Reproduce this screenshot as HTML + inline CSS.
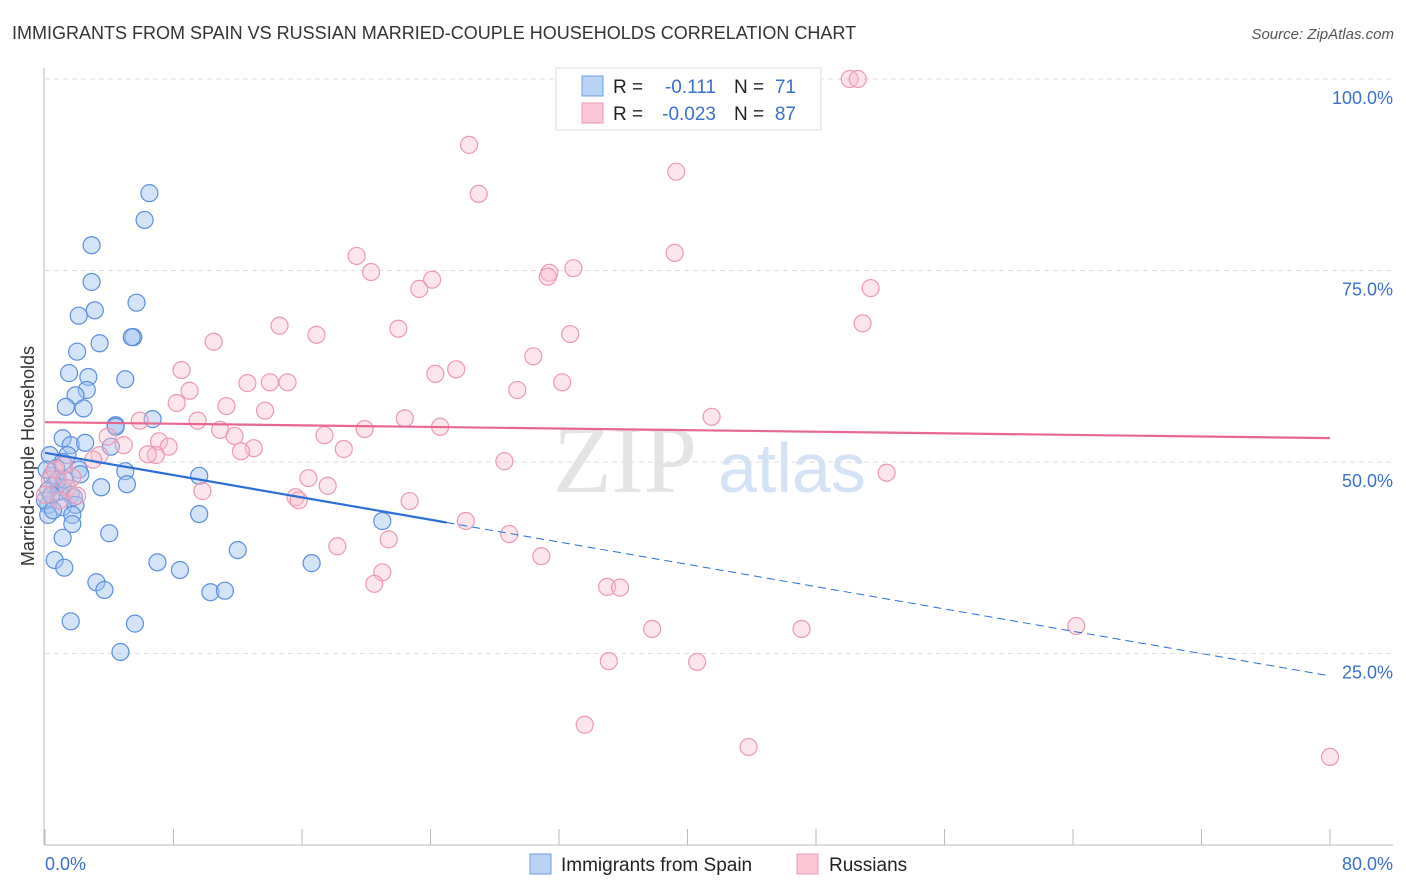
<!DOCTYPE html>
<html><head><meta charset="utf-8"><style>
body{margin:0;background:#fff;width:1406px;height:892px;overflow:hidden;font-family:"Liberation Sans",sans-serif}
svg{display:block}
</style></head><body>
<svg id="chart" width="1406" height="892" xmlns="http://www.w3.org/2000/svg">
<text x="12" y="39" font-size="18" fill="#333">IMMIGRANTS FROM SPAIN VS RUSSIAN MARRIED-COUPLE HOUSEHOLDS CORRELATION CHART</text>
<text x="1394" y="39" font-size="15" fill="#555" font-style="italic" text-anchor="end">Source: ZipAtlas.com</text>
<text transform="translate(34,456) rotate(-90)" font-size="18" fill="#333" text-anchor="middle">Married-couple Households</text>
<g>
<text x="553" y="492" font-size="96" font-family="Liberation Serif,serif" fill="#e4e4e4">ZIP</text>
<text x="718" y="492" font-size="70" fill="#d3e2f4">atlas</text>
</g>
<g id="grid"></g>
<g id="axes"></g>
<g id="pts"></g>
<g id="trend"></g>
<g>
<rect x="556" y="68" width="265" height="62" fill="#fff" stroke="#ddd"/>
<rect x="582" y="76" width="21" height="20" fill="#b9d3f5" stroke="#6d9fe0"/>
<rect x="582" y="103" width="21" height="20" fill="#fcc8d8" stroke="#ec9ab4"/>
<text x="613" y="93" font-size="19" fill="#222">R =</text>
<text x="716" y="93" font-size="19" fill="#3a70cc" text-anchor="end">-0.111</text>
<text x="734" y="93" font-size="19" fill="#222">N =</text>
<text x="796" y="93" font-size="19" fill="#3a70cc" text-anchor="end">71</text>
<text x="613" y="120" font-size="19" fill="#222">R =</text>
<text x="716" y="120" font-size="19" fill="#3a70cc" text-anchor="end">-0.023</text>
<text x="734" y="120" font-size="19" fill="#222">N =</text>
<text x="796" y="120" font-size="19" fill="#3a70cc" text-anchor="end">87</text>
</g>
<g>
<rect x="530" y="854" width="21" height="20" fill="#b9d3f5" stroke="#6d9fe0"/>
<text x="561" y="871" font-size="19" fill="#222">Immigrants from Spain</text>
<rect x="797" y="854" width="21" height="20" fill="#fcc8d8" stroke="#ec9ab4"/>
<text x="829" y="871" font-size="19" fill="#222">Russians</text>
</g>
</svg>
<script>
const spainX=[6.5,6.2,2.9,2.9,5.7,3.1,2.1,5.5,5.4,3.4,2.0,1.5,2.7,5.0,2.6,1.9,1.3,2.4,6.7,4.4,4.4,1.1,1.6,2.5,4.1,0.3,1.4,1.1,0.7,2.1,2.2,0.4,5.0,9.6,0.6,1.1,3.5,5.1,0.2,0.9,1.6,1.8,0.2,1.1,1.9,9.6,0.2,1.7,1.7,4.0,1.1,21.0,12.0,0.6,7.0,1.2,8.4,16.6,3.2,3.7,10.3,11.2,5.6,1.6,4.7,0,0.4,0.8,0.1,0.5,1.2];
const spainY=[85.1,81.6,78.3,73.5,70.8,69.8,69.1,66.3,66.3,65.5,64.4,61.6,61.1,60.8,59.4,58.7,57.2,57.0,55.6,54.8,54.6,53.1,52.2,52.5,52.0,50.9,50.9,50.0,49.2,49.0,48.4,48.2,48.8,48.2,47.0,46.7,46.7,47.1,46.3,46.1,45.7,45.4,44.4,44.1,44.4,43.2,43.1,43.1,41.9,40.7,40.1,42.3,38.5,37.2,36.9,36.2,35.9,36.8,34.3,33.3,33.0,33.2,28.9,29.2,25.2,45.0,45.7,47.7,49.0,43.7,47.7];
const rusX=[37.3,50.1,50.6,26.4,39.3,27.0,39.2,19.4,20.3,32.9,31.4,31.3,24.1,23.3,51.4,14.6,50.9,16.9,22.0,32.7,10.5,30.4,8.5,25.6,24.3,32.2,12.6,14.0,15.1,29.4,9.0,8.2,11.3,13.7,9.5,22.4,41.5,5.9,10.9,24.6,19.9,17.4,11.8,3.9,4.9,7.1,13.0,7.7,18.6,12.2,6.9,6.4,3.4,3.0,28.6,52.4,16.4,1.7,1.4,17.6,9.8,2.0,15.6,15.8,22.7,26.2,28.9,21.4,18.2,30.9,21.0,20.5,35.0,35.8,37.8,47.1,64.2,35.1,40.6,33.6,43.8,80.0,0.3,0.6,0.9,0,1.2];
const rusY=[100,100,100,91.4,87.9,85.0,77.3,76.9,74.8,75.3,74.7,74.2,73.8,72.6,72.7,67.8,68.1,66.6,67.4,66.7,65.7,63.8,62.0,62.1,61.5,60.4,60.3,60.4,60.4,59.4,59.3,57.7,57.3,56.7,55.4,55.7,55.9,55.4,54.2,54.6,54.3,53.5,53.4,53.3,52.2,52.7,51.8,52.0,51.7,51.4,50.9,51.0,50.9,50.3,50.1,48.6,47.9,48.0,46.6,46.9,46.2,45.6,45.4,45.0,44.9,42.3,40.6,39.9,39.0,37.7,35.6,34.1,33.7,33.6,28.2,28.2,28.6,24.0,23.9,15.7,12.8,11.5,47.7,49.0,45.0,45.7,49.6];
const yTicks=[25,50,75,100];
const yTickLabels=["25.0%","50.0%","75.0%","100.0%"];
const xTicks=[0,8,16,24,32,40,48,56,64,72,80];
const spainTrend=[51.2,-0.364,25];
const rusTrend=[55.2,-0.026];

const NS="http://www.w3.org/2000/svg";
const X=v=>45+v/80*1285;
const Y=v=>845-v/100*766;
function mk(tag,attrs,parent){const e=document.createElementNS(NS,tag);for(const k in attrs)e.setAttribute(k,attrs[k]);parent.appendChild(e);return e;}
const grid=document.getElementById('grid'),axes=document.getElementById('axes'),pts=document.getElementById('pts'),trend=document.getElementById('trend');
yTicks.forEach((t,i)=>{
 const l=mk('line',{x1:45,x2:1393,y1:Y(t),y2:Y(t),stroke:'#ddd','stroke-dasharray':'5,4'},grid);
 
 
 const tx=mk('text',{x:1393,y:Y(t)+25,'font-size':18,fill:'#3a70cc','text-anchor':'end'},grid);
 tx.textContent=yTickLabels[i];
 
 
});
const ya=mk('line',{x1:44,x2:44,y1:68,y2:845,stroke:'#bbb'},axes);


const xa=mk('line',{x1:44,x2:1393,y1:845,y2:845,stroke:'#bbb'},axes);


xTicks.forEach(t=>{
 const l=mk('line',{x1:X(t),x2:X(t),y1:829,y2:845,stroke:'#bbb'},axes);
 
 
});
const xl0=mk('text',{x:45,y:870,'font-size':18,fill:'#3a70cc'},axes);
xl0.textContent=xTicks[0].toFixed(1)+'%';


const xl1=mk('text',{x:1393,y:870,'font-size':18,fill:'#3a70cc','text-anchor':'end'},axes);
xl1.textContent=xTicks[xTicks.length-1].toFixed(1)+'%';


spainX.forEach((v,i)=>{
 const c=mk('circle',{cx:X(v),cy:Y(spainY[i]),r:8.5,fill:'rgba(160,196,240,0.45)',stroke:'#5a8fdb','stroke-width':1.2},pts);
 
 
});
rusX.forEach((v,i)=>{
 const c=mk('circle',{cx:X(v),cy:Y(rusY[i]),r:8.5,fill:'rgba(250,190,208,0.4)',stroke:'#ec98b3','stroke-width':1.2},pts);
 
 
});
const sy=x=>spainTrend[0]+spainTrend[1]*x;
const s1=mk('line',{x1:X(0),y1:Y(sy(0)),x2:X(spainTrend[2]),y2:Y(sy(spainTrend[2])),stroke:'#2a6fd6','stroke-width':2.2},trend);


const s2=mk('line',{x1:X(spainTrend[2]),y1:Y(sy(spainTrend[2])),x2:X(80),y2:Y(sy(80)),stroke:'#2a6fd6','stroke-width':1,'stroke-dasharray':'8,5'},trend);


const r1=mk('line',{x1:X(0),y1:Y(rusTrend[0]),x2:X(80),y2:Y(rusTrend[0]+rusTrend[1]*80),stroke:'#e8678f','stroke-width':2.2},trend);


</script>
</body></html>
